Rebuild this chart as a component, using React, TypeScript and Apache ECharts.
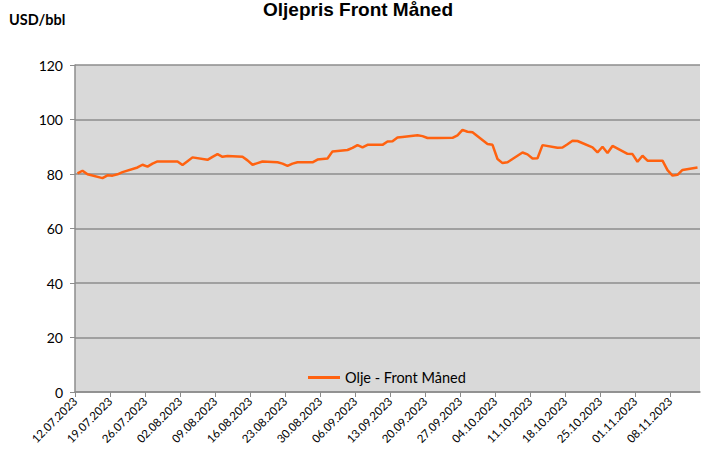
import React, { useEffect, useRef } from "react";
import * as echarts from "echarts";

const START_DATE = "12.07.2023";
const AXIS_DAYS = 125;
const TICK_STEP = 7;

const tickLabels = [
  "12.07.2023", "19.07.2023", "26.07.2023", "02.08.2023", "09.08.2023", "16.08.2023",
  "23.08.2023", "30.08.2023", "06.09.2023", "13.09.2023", "20.09.2023", "27.09.2023",
  "04.10.2023", "11.10.2023", "18.10.2023", "25.10.2023", "01.11.2023", "08.11.2023",
];

const dates = [
  "12.07.2023", "13.07.2023", "14.07.2023",
  "17.07.2023", "18.07.2023", "19.07.2023", "20.07.2023", "21.07.2023",
  "24.07.2023", "25.07.2023", "26.07.2023", "27.07.2023", "28.07.2023",
  "31.07.2023", "01.08.2023", "02.08.2023", "03.08.2023", "04.08.2023",
  "07.08.2023", "08.08.2023", "09.08.2023", "10.08.2023", "11.08.2023",
  "14.08.2023", "15.08.2023", "16.08.2023", "17.08.2023", "18.08.2023",
  "21.08.2023", "22.08.2023", "23.08.2023", "24.08.2023", "25.08.2023",
  "28.08.2023", "29.08.2023", "30.08.2023", "31.08.2023", "01.09.2023",
  "04.09.2023", "05.09.2023", "06.09.2023", "07.09.2023", "08.09.2023",
  "11.09.2023", "12.09.2023", "13.09.2023", "14.09.2023", "15.09.2023",
  "18.09.2023", "19.09.2023", "20.09.2023", "21.09.2023", "22.09.2023",
  "25.09.2023", "26.09.2023", "27.09.2023", "28.09.2023", "29.09.2023",
  "02.10.2023", "03.10.2023", "04.10.2023", "05.10.2023", "06.10.2023",
  "09.10.2023", "10.10.2023", "11.10.2023", "12.10.2023", "13.10.2023",
  "16.10.2023", "17.10.2023", "18.10.2023", "19.10.2023", "20.10.2023",
  "23.10.2023", "24.10.2023", "25.10.2023", "26.10.2023", "27.10.2023",
  "30.10.2023", "31.10.2023", "01.11.2023", "02.11.2023", "03.11.2023",
  "06.11.2023", "07.11.2023", "08.11.2023", "09.11.2023", "10.11.2023",
  "13.11.2023",
];

const oilFrontMonth = [
  80.2, 81.2, 79.9,
  78.5, 79.5, 79.4, 79.9, 80.7,
  82.4, 83.4, 82.7, 83.8, 84.6,
  84.6, 84.6, 83.3, 84.7, 86.1,
  85.2, 86.3, 87.3, 86.3, 86.6,
  86.3, 85.0, 83.4, 84.0, 84.6,
  84.3, 83.8, 83.0, 83.8, 84.3,
  84.3, 85.3, 85.5, 85.7, 88.3,
  88.8, 89.6, 90.6, 89.8, 90.7,
  90.7, 91.9, 92.0, 93.4, 93.6,
  94.2, 93.9, 93.2, 93.2, 93.2,
  93.3, 94.2, 96.2, 95.5, 95.3,
  91.0, 90.7, 85.5, 84.0, 84.3,
  87.9, 87.2, 85.7, 85.8, 90.6,
  89.6, 89.7, 90.9, 92.2, 92.1,
  89.8, 87.9, 90.0, 87.7, 90.3,
  87.4, 87.3, 84.5, 86.7, 84.9,
  84.9, 81.4, 79.4, 79.7, 81.5,
  82.4,
];

const SERIES_NAME = "Olje - Front Måned";

function parseDate(s: string): number {
  const [d, m, y] = s.split(".").map(Number);
  return Date.UTC(y, m - 1, d);
}

const DAY = 86400000;
const start = parseDate(START_DATE);
const dayIndex = (s: string) => Math.round((parseDate(s) - start) / DAY);

export default function App() {
  const ref = useRef<HTMLDivElement>(null);

  useEffect(() => {
    if (!ref.current) return;
    const chart = echarts.init(ref.current, undefined, { renderer: "svg" });
    const seriesData = dates.map((d, i) => [dayIndex(d) + 0.5, oilFrontMonth[i]]);
    const labelFont = "Lato, 'Noto Sans', sans-serif";
    chart.setOption({
      animation: false,
      backgroundColor: "#ffffff",
      title: [
        {
          text: "Oljepris Front Måned",
          left: 263,
          top: 0,
          padding: 0,
          textStyle: {
            fontFamily: "'Liberation Sans', Arial, sans-serif",
            fontWeight: "bold",
            fontSize: 19,
            color: "#000000",
          },
        },
        {
          text: "USD/bbl",
          left: 9,
          top: 12,
          padding: 0,
          textStyle: {
            fontFamily: labelFont,
            fontWeight: "bold",
            fontSize: 14.5,
            color: "#000000",
          },
        },
      ],
      grid: {
        left: 75,
        right: 5,
        top: 65,
        bottom: 58,
        show: true,
        backgroundColor: "#d9d9d9",
        borderWidth: 0,
        containLabel: false,
      },
      legend: {
        data: [{ name: SERIES_NAME, icon: "rect" }],
        left: 303,
        top: 365,
        itemWidth: 32,
        itemHeight: 3,
        itemGap: 5,
        textStyle: { fontFamily: labelFont, fontSize: 14.5, color: "#000000" },
      },
      xAxis: {
        type: "value",
        min: 0,
        max: AXIS_DAYS,
        interval: TICK_STEP,
        axisLine: { show: true, lineStyle: { color: "#8c8c8c", width: 1.5 } },
        axisTick: { show: true, length: 5, lineStyle: { color: "#8c8c8c", width: 1 } },
        splitLine: { show: false },
        axisLabel: {
          rotate: 45,
          margin: 7,
          showMaxLabel: false,
          fontFamily: labelFont,
          fontSize: 11.5,
          color: "#000000",
          formatter: (v: number) =>
            v % TICK_STEP === 0 && tickLabels[v / TICK_STEP] ? tickLabels[v / TICK_STEP] : "",
        },
      },
      yAxis: {
        type: "value",
        min: 0,
        max: 120,
        interval: 20,
        axisLine: { show: true, lineStyle: { color: "#8c8c8c", width: 1.5 } },
        axisTick: { show: true, length: 5, lineStyle: { color: "#8c8c8c", width: 1 } },
        splitLine: { show: true, lineStyle: { color: "#8c8c8c", width: 1.5 } },
        axisLabel: {
          margin: 12,
          fontFamily: labelFont,
          fontSize: 14,
          color: "#000000",
        },
      },
      series: [
        {
          name: SERIES_NAME,
          type: "line",
          data: seriesData,
          symbol: "none",
          connectNulls: true,
          lineStyle: { color: "#ff6210", width: 2.5 },
          itemStyle: { color: "#ff6210" },
        },
      ],
    });
    return () => chart.dispose();
  }, []);

  return (
    <div
      ref={ref}
      style={{ position: "absolute", left: 0, top: 0, width: 705, height: 450 }}
    />
  );
}
